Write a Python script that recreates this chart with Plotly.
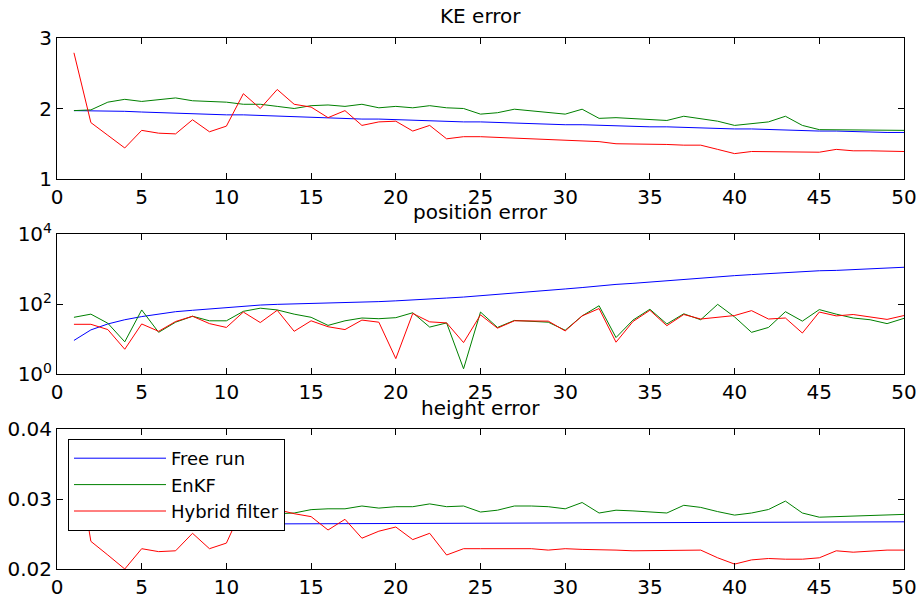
import plotly.graph_objects as go

steps = list(range(1, 51))

ke_free = [1.97, 1.97, 1.96, 1.96, 1.95, 1.94, 1.94, 1.93, 1.92, 1.91,
           1.91, 1.90, 1.89, 1.88, 1.88, 1.87, 1.86, 1.85, 1.85, 1.84,
           1.83, 1.83, 1.82, 1.81, 1.81, 1.80, 1.79, 1.79, 1.78, 1.77,
           1.77, 1.76, 1.76, 1.75, 1.74, 1.74, 1.73, 1.73, 1.72, 1.71,
           1.71, 1.70, 1.70, 1.69, 1.68, 1.68, 1.67, 1.67, 1.66, 1.66]
ke_enkf = [1.97, 1.98, 2.09, 2.13, 2.10, 2.13, 2.15, 2.11, 2.10, 2.09,
           2.06, 2.06, 2.03, 2.00, 2.04, 2.05, 2.03, 2.06, 2.01, 2.03,
           2.01, 2.04, 2.01, 2.00, 1.92, 1.94, 1.99, 1.97, 1.95, 1.92,
           1.99, 1.86, 1.87, 1.86, 1.85, 1.83, 1.89, 1.86, 1.82, 1.76,
           1.78, 1.81, 1.89, 1.76, 1.70, 1.70, 1.70, 1.70, 1.69, 1.69]
ke_hybrid = [2.79, 1.80, 1.62, 1.44, 1.69, 1.65, 1.64, 1.84, 1.67, 1.75,
             2.21, 2.00, 2.27, 2.06, 2.02, 1.87, 1.97, 1.76, 1.81, 1.82,
             1.68, 1.76, 1.57, 1.60, 1.60, 1.59, 1.58, 1.57, 1.55, 1.55,
             1.54, 1.53, 1.50, 1.50, 1.49, 1.49, 1.48, 1.48, 1.42, 1.36,
             1.39, 1.39, 1.38, 1.38, 1.38, 1.42, 1.40, 1.40, 1.40, 1.39]

pos_free = [9.1, 18.2, 26.9, 35.5, 43.7, 52.5, 60.3, 66.1, 72.4, 79.4,
            85.1, 93.3, 97.7, 100, 102, 107, 110, 112, 117, 123,
            129, 138, 148, 158, 174, 186, 204, 224, 245, 269,
            295, 331, 363, 389, 427, 468, 513, 562, 603, 646,
            692, 741, 794, 832, 891, 912, 955, 1023, 1072, 1122]
pos_enkf = [41.7, 51.3, 28.2, 8.3, 67.6, 15.5, 30.2, 44.7, 33.1, 33.1,
            61.7, 75.9, 67.6, 51.3, 41.7, 24.5, 33.1, 39.8, 38.0, 40.7,
            56.2, 21.9, 28.8, 1.41, 58.9, 21.4, 33.9, 31.6, 30.2, 17.8,
            45.7, 89.1, 11.0, 34.7, 70.8, 26.9, 52.5, 35.5, 97.7, 42.7,
            15.5, 21.4, 60.3, 32.4, 69.2, 51.3, 39.8, 35.5, 27.5, 38.9]
pos_hybrid = [26.3, 26.3, 18.6, 5.1, 26.9, 16.6, 31.6, 44.7, 27.5, 21.4,
              58.9, 29.5, 66.1, 16.6, 33.1, 22.4, 18.6, 34.7, 30.2, 2.75,
              53.7, 30.9, 28.8, 7.9, 49.0, 20.4, 33.1, 32.4, 32.4, 17.0,
              45.7, 74.1, 8.1, 31.6, 66.1, 24.0, 50.1, 37.2, 42.7, 46.8,
              64.6, 37.2, 39.8, 14.8, 58.9, 45.7, 50.1, 41.7, 36.3, 46.8]

h_free = [0.02635, 0.02636, 0.02637, 0.02638, 0.02639, 0.02640, 0.02641, 0.02642, 0.02643, 0.02644,
          0.02645, 0.02646, 0.02647, 0.02648, 0.02649, 0.02650, 0.02651, 0.02652, 0.02653, 0.02654,
          0.02655, 0.02656, 0.02657, 0.02658, 0.02659, 0.02660, 0.02661, 0.02662, 0.02663, 0.02664,
          0.02664, 0.02665, 0.02665, 0.02666, 0.02666, 0.02667, 0.02667, 0.02668, 0.02668, 0.02669,
          0.02669, 0.02670, 0.02670, 0.02671, 0.02671, 0.02672, 0.02672, 0.02673, 0.02673, 0.02674]
h_enkf = [0.0263, 0.0266, 0.0272, 0.0277, 0.0280, 0.0281, 0.0282, 0.0283, 0.0282, 0.0283,
          0.0281, 0.0280, 0.0279, 0.0280, 0.02848, 0.0286, 0.0286, 0.0290, 0.0287, 0.0289,
          0.0289, 0.0293, 0.0289, 0.0290, 0.02814, 0.0284, 0.0290, 0.0290, 0.0289, 0.0286,
          0.0295, 0.0280, 0.0284, 0.0283, 0.0282, 0.0280, 0.0291, 0.0288, 0.0282, 0.0277,
          0.0280, 0.0285, 0.0297, 0.0280, 0.0274, 0.0275, 0.0275, 0.0276, 0.0277, 0.0278]
h_hybrid = [0.0385, 0.02395, 0.0220, 0.0200, 0.0229, 0.02248, 0.0226, 0.0251, 0.0229, 0.0237,
            0.0290, 0.02695, 0.0285, 0.0279, 0.02748, 0.02557, 0.0271, 0.0244, 0.0254, 0.0260,
            0.0242, 0.0251, 0.0220, 0.0229, 0.0229, 0.0229, 0.0229, 0.0229, 0.0227, 0.0229,
            0.0228, 0.0228, 0.0227, 0.0226, 0.0226, 0.0226, 0.0226, 0.0227, 0.0216, 0.0207,
            0.0213, 0.0215, 0.0214, 0.0214, 0.0216, 0.0226, 0.0224, 0.0226, 0.0227, 0.0227]

series_names = ["Free run", "EnKF", "Hybrid filter"]
colors = ["#0000FF", "#008000", "#FF0000"]
titles = ["KE error", "position error", "height error"]

FONT = "DejaVu Sans"
FS = 20
W, H = 919, 596
ML, MR = 57, 15

# panel pixel extents (top, bottom) and title centre
panels = [(38, 179), (234, 374), (429, 569)]
title_centres = [16, 212, 408]

fig = go.Figure()
data = [(ke_free, ke_enkf, ke_hybrid), (pos_free, pos_enkf, pos_hybrid), (h_free, h_enkf, h_hybrid)]
for p, triple in enumerate(data):
    for s, vals in enumerate(triple):
        fig.add_trace(go.Scatter(
            x=steps, y=vals, mode="lines", name=series_names[s],
            line=dict(color=colors[s], width=1),
            xaxis="x" if p == 0 else f"x{p+1}",
            yaxis="y" if p == 0 else f"y{p+1}",
            showlegend=(p == 2),
        ))

axis_common = dict(
    showgrid=False, zeroline=False, showline=True, linecolor="black", linewidth=1,
    mirror="allticks", ticks="inside", ticklen=6, tickcolor="black", tickwidth=1,
    tickfont=dict(family=FONT, size=FS, color="black"), automargin=False,
)

layout = dict(
    width=W, height=H, margin=dict(l=ML, r=MR, t=0, b=0, autoexpand=False),
    paper_bgcolor="white", plot_bgcolor="white",
    font=dict(family=FONT, size=FS, color="black"),
    showlegend=True,
    legend=dict(
        x=(68 - ML) / (W - ML - MR), y=1 - 439 / H, xanchor="left", yanchor="top",
        bgcolor="white", bordercolor="black", borderwidth=1,
        font=dict(family=FONT, size=18, color="black"),
        itemwidth=92, tracegroupgap=0,
    ),
)

yranges = [dict(range=[1, 3], tickvals=[1, 2, 3], ticktext=["1", "2", "3"]),
           dict(type="log", range=[0, 4], tickvals=[1, 100, 10000],
                ticktext=["10<sup>0</sup>", "10<sup>2</sup>", "10<sup>4</sup>"]),
           dict(range=[0.02, 0.04], tickvals=[0.02, 0.03, 0.04], ticktext=["0.02", "0.03", "0.04"])]

annotations = []
for p, (top, bot) in enumerate(panels):
    xa = "xaxis" if p == 0 else f"xaxis{p+1}"
    ya = "yaxis" if p == 0 else f"yaxis{p+1}"
    yref = "y" if p == 0 else f"y{p+1}"
    xref = "x" if p == 0 else f"x{p+1}"
    layout[xa] = dict(axis_common, range=[0, 50], tickvals=list(range(0, 51, 5)),
                      anchor=yref, domain=[0, 1])
    layout[ya] = dict(axis_common, anchor=xref,
                      domain=[1 - bot / H, 1 - top / H], **yranges[p])
    annotations.append(dict(
        text=titles[p], xref="paper", yref="paper", x=0.5, y=1 - title_centres[p] / H,
        xanchor="center", yanchor="middle", showarrow=False,
        font=dict(family=FONT, size=FS, color="black"),
    ))
layout["annotations"] = annotations

fig.update_layout(**layout)
fig.write_html("out.html")
